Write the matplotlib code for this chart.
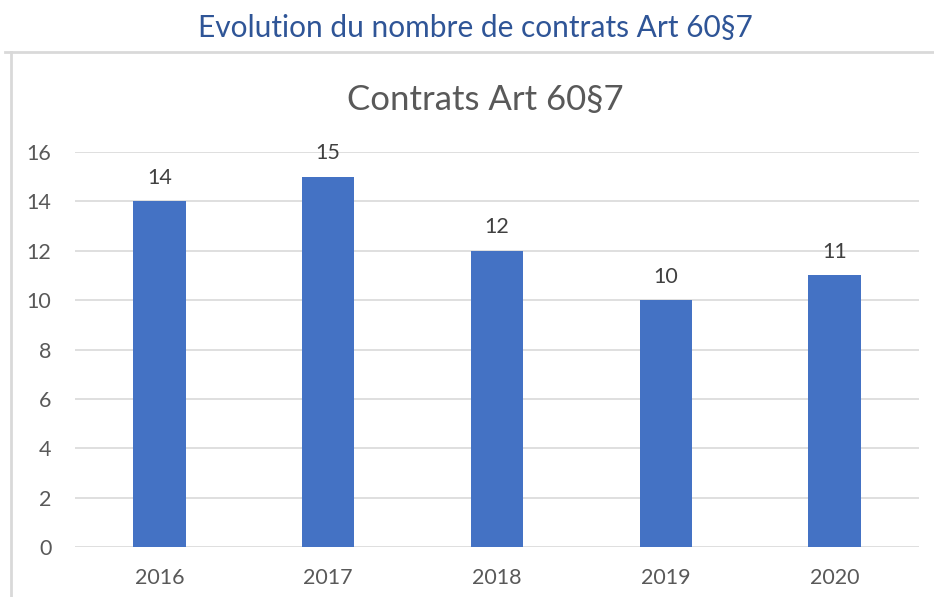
import matplotlib.pyplot as plt
from matplotlib.lines import Line2D

# data
years = ['2016', '2017', '2018', '2019', '2020']
contrats = [14, 15, 12, 10, 11]

plt.rcParams['font.family'] = ['Lato', 'DejaVu Sans']

fig = plt.figure(figsize=(9.34, 5.97), dpi=100)
ax = fig.add_axes([75/934, 1-547/597, 844/934, 395/597])

bars = ax.bar(range(len(years)), contrats, width=0.31, color='#4472C4', zorder=3)
for i, v in enumerate(contrats):
    ax.annotate(str(v), (i, v), xytext=(0, 17), textcoords='offset points',
                ha='center', va='center', fontsize=15.5, color='#404040')

ax.set_xlim(-0.5, len(years) - 0.5)
ax.set_ylim(0, 16)
ax.set_yticks(range(0, 17, 2))
ax.set_xticks(range(len(years)))
ax.set_xticklabels(years)
ax.grid(axis='y', color='#D9D9D9', linewidth=1.2, zorder=0)
for s in ax.spines.values():
    s.set_visible(False)
ax.tick_params(length=0, labelsize=15.5, labelcolor='#595959')
ax.tick_params(axis='y', pad=17)
ax.tick_params(axis='x', pad=15)

# chart frame (top and left edges visible)
fig.add_artist(Line2D([5/934, 1], [1-52/597, 1-52/597], color='#D9D9D9', linewidth=2))
fig.add_artist(Line2D([11/934, 11/934], [0, 1-52/597], color='#D9D9D9', linewidth=2))

fig.text(485/934, 1-100/597, 'Contrats Art 60§7', ha='center', va='center',
         fontsize=25, color='#595959')
fig.text(475/934, 1-28/597, 'Evolution du nombre de contrats Art 60§7', ha='center',
         va='center', fontsize=21.5, color='#2F5597')

fig.savefig('out.png', dpi=100)
